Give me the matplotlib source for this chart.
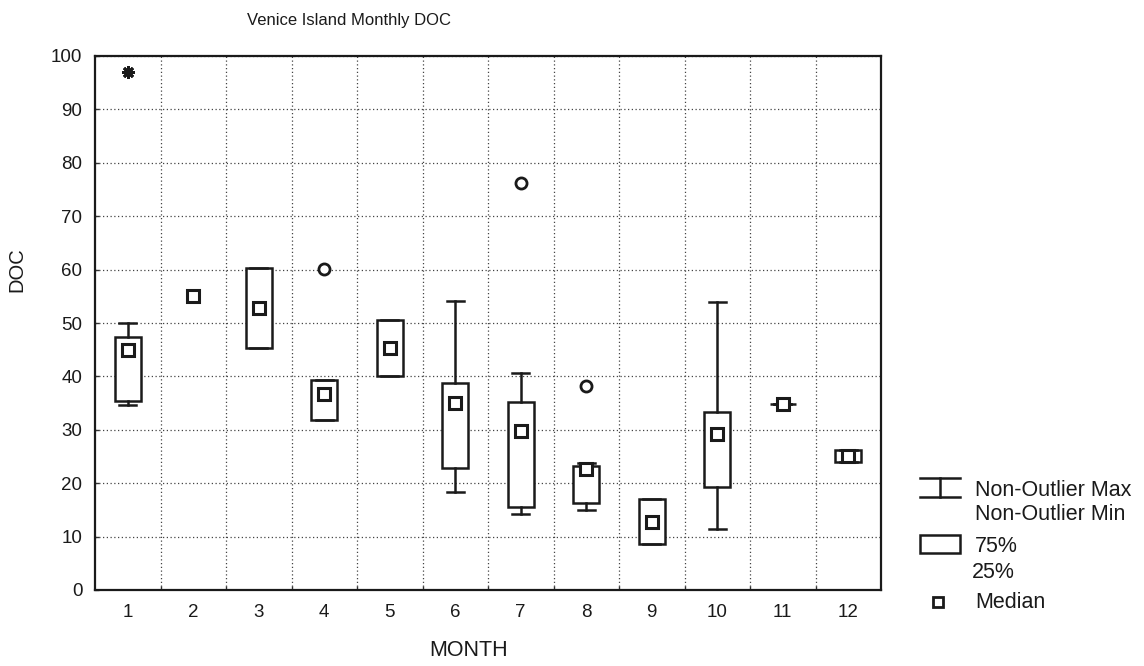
import matplotlib
matplotlib.use('Agg')
import matplotlib.pyplot as plt
import numpy as np
from matplotlib.patches import Rectangle

# 月別 DOC の箱ひげ図データ
months = list(range(1, 13))
q1 = [35.4, None, 45.3, 31.8, 40.1, 22.8, 15.5, 16.3, 8.6, 19.3, 34.8, 24.0]
q3 = [47.4, None, 60.3, 39.3, 50.6, 38.8, 35.2, 23.2, 17.0, 33.3, 34.8, 26.2]
med = [45.0, 55.0, 52.8, 36.7, 45.3, 35.0, 29.8, 22.7, 12.7, 29.2, 34.8, 25.1]
whis_lo = [34.6, None, 45.3, 31.8, 40.1, 18.4, 14.2, 15.0, 8.6, 11.4, 34.8, 24.0]
whis_hi = [50.0, None, 60.3, 39.3, 50.6, 54.1, 40.6, 23.8, 17.0, 54.0, 34.8, 26.2]
outlier_month = [4, 7, 8]
outlier_val = [60.1, 76.2, 38.2]
extreme_month = [1]
extreme_val = [97.0]

title = 'Venice Island Monthly DOC'
xlabel = 'MONTH'
ylabel = 'DOC'
legend_labels = ['Non-Outlier Max', 'Non-Outlier Min', '75%', '25%', 'Median']


def main():
    plt.rcParams['font.family'] = ['Liberation Sans', 'DejaVu Sans']
    W, H = 1144, 666
    c = '#1a1a1a'
    fig = plt.figure(figsize=(W / 100, H / 100), dpi=100)
    ax = fig.add_axes([95 / W, 1 - 590 / H, (881 - 95) / W, (590 - 56) / H])

    stats = []
    pos = []
    for m, a, b, md, lo, hi in zip(months, q1, q3, med, whis_lo, whis_hi):
        if a is None:
            continue
        stats.append(dict(med=md, q1=a, q3=b, whislo=lo, whishi=hi, fliers=[]))
        pos.append(m)

    lw = 1.8
    ax.bxp(stats, positions=pos, widths=0.4, capwidths=0.26, patch_artist=True,
           showfliers=False, manage_ticks=False,
           boxprops=dict(facecolor='white', edgecolor=c, linewidth=lw),
           whiskerprops=dict(color=c, linewidth=lw),
           capprops=dict(color=c, linewidth=lw),
           medianprops=dict(visible=False), zorder=3)

    ax.plot(months, med, linestyle='none', marker='s', markersize=8,
            markerfacecolor='white', markeredgecolor=c, markeredgewidth=2.2, zorder=4)
    ax.plot(outlier_month, outlier_val, linestyle='none', marker='o', markersize=8,
            markerfacecolor='white', markeredgecolor=c, markeredgewidth=2.0, zorder=4)
    ax.plot(extreme_month, extreme_val, linestyle='none', marker=(8, 2, 0), markersize=9,
            markeredgecolor=c, markeredgewidth=2.0, zorder=4)

    ax.set_xlim(0.5, 12.5)
    ax.set_ylim(0, 100)
    ax.set_xticks(months)
    ax.set_xticklabels([str(m) for m in months])
    ax.set_xticks(np.arange(1.5, 12.5, 1), minor=True)
    ax.set_yticks(np.arange(0, 101, 10))
    ax.tick_params(axis='x', which='major', length=0, pad=10, labelsize=13.5, labelcolor=c)
    ax.tick_params(axis='x', which='minor', direction='in', length=3, width=1, color='#333333')
    ax.tick_params(axis='y', which='major', direction='in', length=3, width=1, pad=9,
                   labelsize=13.5, labelcolor=c, color='#333333')
    ax.grid(True, axis='x', which='minor', linestyle=(0, (1, 2)), color='#444444', linewidth=0.9)
    ax.grid(True, axis='y', which='major', linestyle=(0, (1, 2)), color='#444444', linewidth=0.9)
    ax.set_axisbelow(True)
    for s in ax.spines.values():
        s.set_linewidth(1.6)
        s.set_color(c)

    fig.text(349 / W, 1 - 21 / H, title, ha='center', va='center', fontsize=12, color=c)
    fig.text(17 / W, 1 - 270 / H, ylabel, ha='center', va='center', rotation=90,
             fontsize=14.5, color=c)
    fig.text(469 / W, 1 - 650 / H, xlabel, ha='center', va='center', fontsize=15.5, color=c)

    # 凡例（ピクセル座標のオーバーレイ）
    lg = fig.add_axes([0, 0, 1, 1], zorder=5)
    lg.set_xlim(0, W)
    lg.set_ylim(H, 0)
    lg.axis('off')
    lg.patch.set_alpha(0)
    lg.plot([920, 960], [478, 478], color=c, lw=lw)
    lg.plot([920, 960], [497, 497], color=c, lw=lw)
    lg.plot([940, 940], [478, 497], color=c, lw=lw)
    lg.add_patch(Rectangle((920, 535), 40, 18, facecolor='white', edgecolor=c, lw=lw))
    lg.plot([938], [602], marker='s', markersize=6.5, markerfacecolor='white',
            markeredgecolor=c, markeredgewidth=2)
    fs = 15.5
    lg.text(975, 490, legend_labels[0], va='center', fontsize=fs, color=c)
    lg.text(975, 515, legend_labels[1], va='center', fontsize=fs, color=c)
    lg.text(975, 547, legend_labels[2], va='center', fontsize=fs, color=c)
    lg.text(972, 572, legend_labels[3], va='center', fontsize=fs, color=c)
    lg.text(975, 602, legend_labels[4], va='center', fontsize=fs, color=c)

    fig.savefig('out.png', dpi=100)


if __name__ == '__main__':
    main()
